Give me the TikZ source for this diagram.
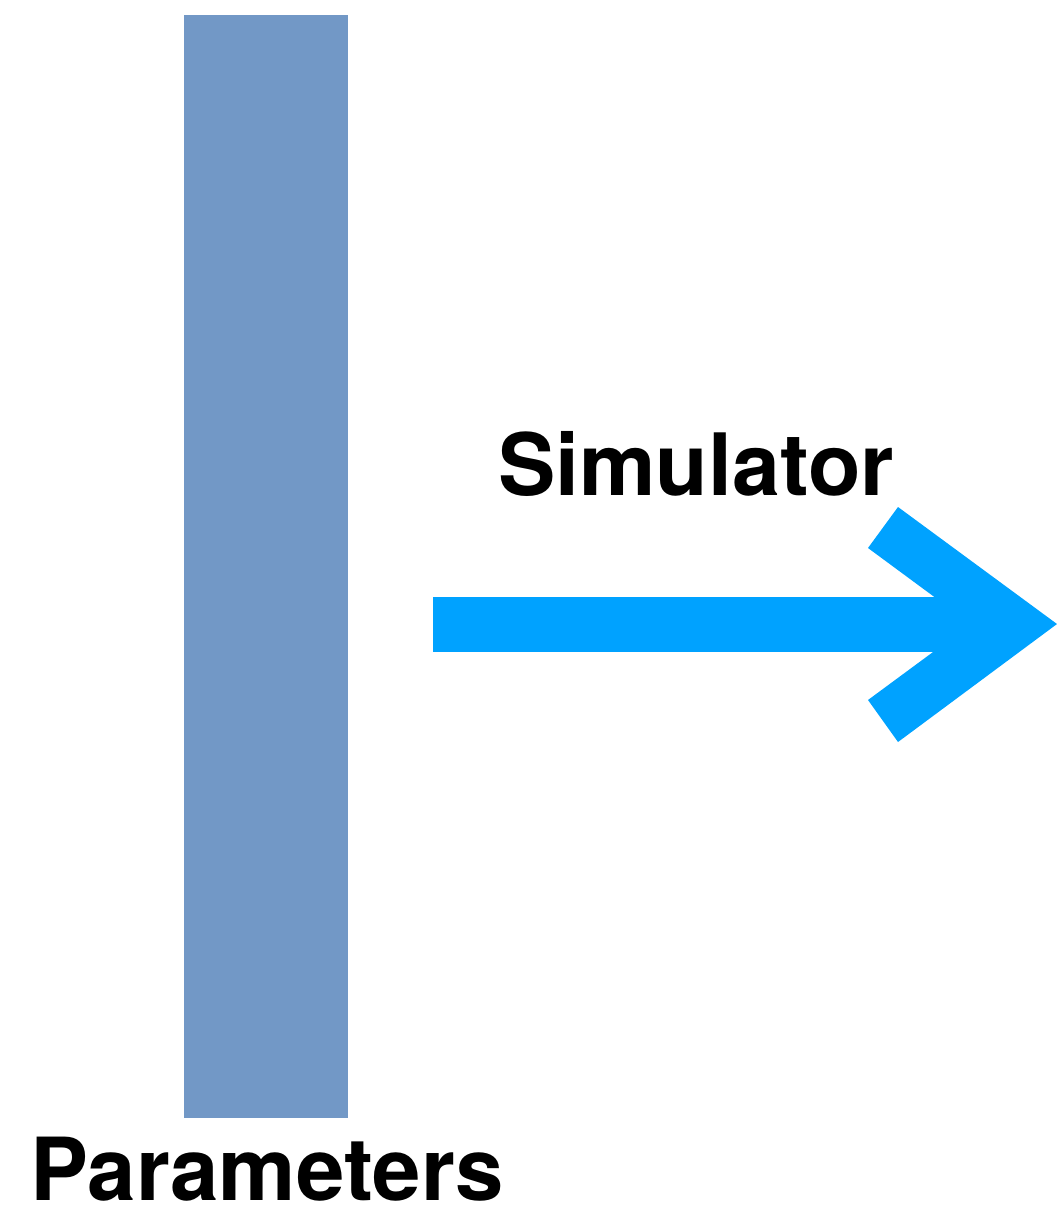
\documentclass[tikz,border=0pt]{standalone}
\usepackage{fontspec}
\setmainfont{TeX Gyre Heros}
\definecolor{barblue}{HTML}{7298C6}
\definecolor{arrowblue}{HTML}{00A2FF}
\begin{document}
\begin{tikzpicture}[x=1pt,y=-1pt,
  lbl/.style={font=\fontsize{86}{100}\selectfont\bfseries, inner sep=0pt, anchor=base west}]
\useasboundingbox (0,0) rectangle (1057,1216);
\node[fill=barblue, minimum width=164pt, minimum height=1103pt, inner sep=0pt, anchor=north west] (bar) at (184,15) {};
\node[lbl, font=\fontsize{87}{100}\selectfont\bfseries] (params) at (30,1200) {Parameters};
\node[lbl] (sim) at (498,495) {Simulator};
\fill[arrowblue] (433,597) rectangle (975,652);
\fill[arrowblue] (868,548) -- (898,507) -- (1057,624) -- (898,742) -- (868,700) -- (971,624) -- cycle;
\end{tikzpicture}
\end{document}
